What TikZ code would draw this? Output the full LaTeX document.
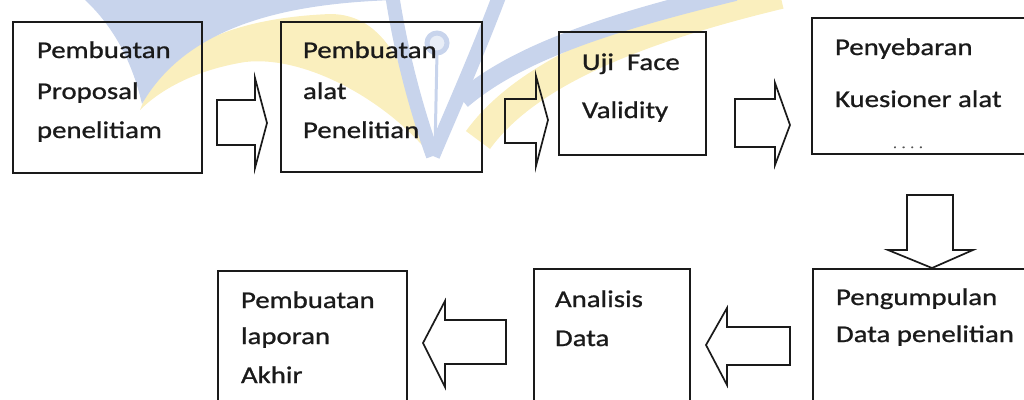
\documentclass[tikz,border=0pt]{standalone}
\usepackage{fontspec}
\setmainfont{Carlito}[FakeStretch=1.2,FakeBold=0.9]
\definecolor{ink}{HTML}{1A1A1A}
\definecolor{wmyellow}{HTML}{FAEFBE}
\definecolor{wmblue}{HTML}{C8D4EC}
\begin{document}
\begin{tikzpicture}[x=1pt,y=-1pt,
  box/.style={draw=ink,line width=1.9pt,anchor=north west,inner sep=0pt,outer sep=0pt},
  blockarrow/.style={draw=ink,line width=1.7pt,line join=miter},
  lbl/.style={anchor=base west,inner sep=0pt,outer sep=0pt,text=ink,font=\fontsize{24}{28}\selectfont},
  wmband/.style={line cap=butt}]
\useasboundingbox (0,0) rectangle (1024,399);
\begin{scope}
\clip (0,0) rectangle (1024,399);
% faint watermark (logo)
\fill[wmyellow] (140,110) .. controls (165,45) and (235,18) .. (330,14)
   .. controls (385,14) and (410,70) .. (428,152)
   .. controls (385,100) and (305,55) .. (245,62)
   .. controls (195,70) and (160,90) .. (140,110) -- cycle;
\fill[wmblue] (85,0) -- (395,0) .. controls (300,3) and (190,20) .. (142,104)
   .. controls (132,60) and (112,25) .. (85,0) -- cycle;
\draw[wmyellow,line width=30pt,wmband] (478,140) .. controls (525,75) and (630,30) .. (780,-6);
\draw[wmblue,line width=18pt,wmband] (462,100) .. controls (520,50) and (620,20) .. (735,-8);
\draw[wmblue,line width=14pt,wmband] (392,-6) .. controls (402,60) and (420,120) .. (433,156);
\draw[wmblue,line width=14pt,wmband] (500,-6) .. controls (475,60) and (448,120) .. (433,156);
\draw[wmblue,line width=3pt] (437,52) -- (435,150);
\draw[wmblue,line width=5pt,fill=wmblue!40] (437,43) circle[radius=10];
% boxes
\node[box,minimum width=189pt,minimum height=151pt] (b1) at (13,22) {};
\node[box,minimum width=201pt,minimum height=150pt] (b2) at (281,22) {};
\node[box,minimum width=147pt,minimum height=123pt] (b3) at (559,32) {};
\node[box,minimum width=260pt,minimum height=136pt] (b4) at (812,18) {};
\node[box,minimum width=260pt,minimum height=160pt] (b5) at (813,269) {};
\node[box,minimum width=156pt,minimum height=160pt] (b6) at (534,269) {};
\node[box,minimum width=189pt,minimum height=160pt] (b7) at (218,271) {};
% texts
\node[lbl] (b1l1) at (37,58) {Pembuatan};
\node[lbl] (b1l2) at (37,99) {Proposal};
\node[lbl] (b1l3) at (37,138) {penelitiam};
\node[lbl] (b2l1) at (303,58) {Pembuatan};
\node[lbl] (b2l2) at (303,99) {alat};
\node[lbl] (b2l3) at (303,138) {Penelitian};
\node[lbl] (b3l1) at (582,70) {Uji\ \ Face};
\node[lbl] (b3l2) at (582,118) {Validity};
\node[lbl] (b4l1) at (835,55) {Penyebaran};
\node[lbl] (b4l2) at (835,107) {Kuesioner alat};
\node[lbl,font=\fontsize{13}{14}\selectfont,text=ink!75] (b4l3) at (893,148) {. . . .};
\node[lbl] (b5l1) at (836,305) {Pengumpulan};
\node[lbl] (b5l2) at (836,342) {Data penelitian};
\node[lbl] (b6l1) at (555,307) {Analisis};
\node[lbl] (b6l2) at (555,346) {Data};
\node[lbl] (b7l1) at (241,308) {Pembuatan};
\node[lbl] (b7l2) at (241,344) {laporan};
\node[lbl] (b7l3) at (241,383) {Akhir};
% block arrows
\draw[blockarrow] (217,100) -- (255,100) -- (255,78) -- (267,123) -- (255,168) -- (255,145) -- (217,145) -- cycle;
\draw[blockarrow] (505,99) -- (536,99) -- (536,76) -- (548,120) -- (536,166) -- (536,143) -- (505,143) -- cycle;
\draw[blockarrow] (735,99) -- (775,99) -- (775,83) -- (790,125) -- (775,165) -- (775,147) -- (735,147) -- cycle;
\draw[blockarrow] (907,195) -- (953,195) -- (953,250) -- (973,250) -- (932,268) -- (888,250) -- (907,250) -- cycle;
\draw[blockarrow] (790,327) -- (790,365) -- (727,365) -- (727,385) -- (706,345) -- (727,308) -- (727,327) -- cycle;
\draw[blockarrow] (506,320) -- (506,364) -- (445,364) -- (445,387) -- (423,343) -- (445,301) -- (445,320) -- cycle;
\end{scope}
\end{tikzpicture}
\end{document}
